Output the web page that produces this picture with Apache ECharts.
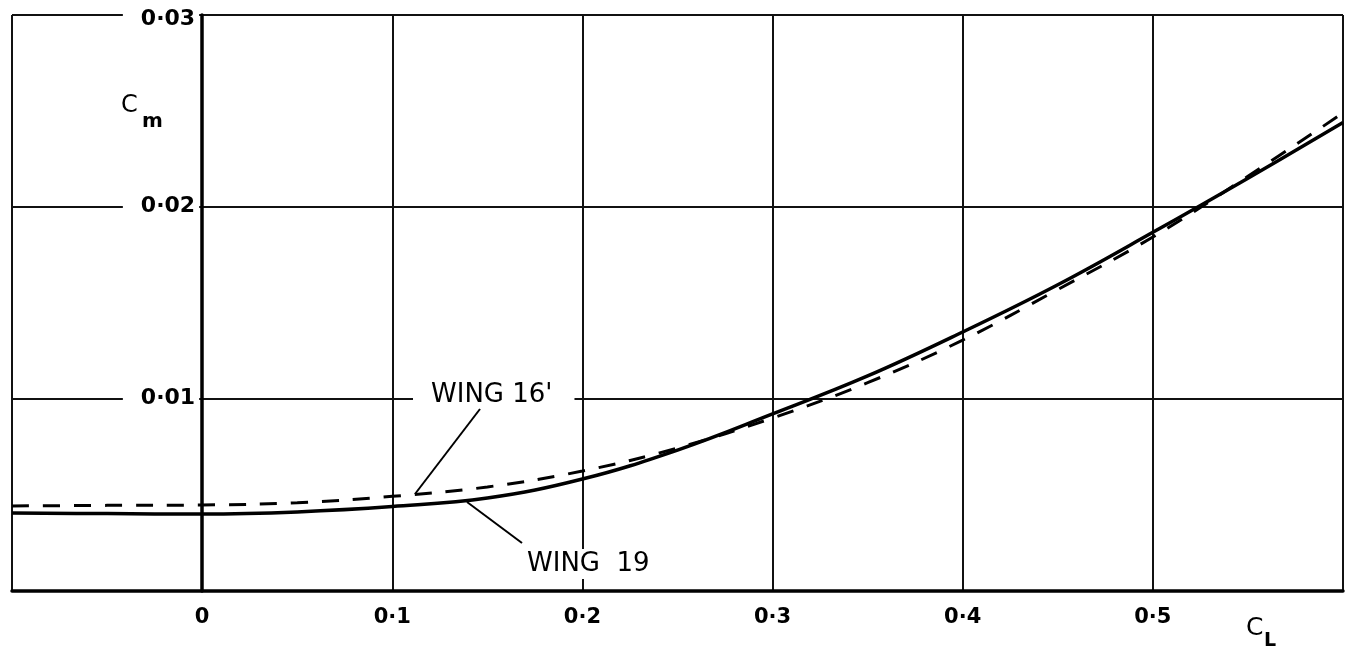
<!DOCTYPE html>
<html><head><meta charset="utf-8">
<script src="https://cdn.jsdelivr.net/npm/echarts@6/dist/echarts.min.js"></script>
<style>html,body{margin:0;padding:0;background:#fff}#c{width:1355px;height:657px}</style>
</head><body><div id="c"></div>
<script>
// ---- data ----
const cl     = [-0.1, -0.05, 0, 0.05, 0.1, 0.15, 0.2, 0.25, 0.3, 0.35, 0.4, 0.45, 0.5, 0.55, 0.6];
const wing16 = [0.00443, 0.00446, 0.00448, 0.00460, 0.00493, 0.00542, 0.00625, 0.00745, 0.00901, 0.01085, 0.01307, 0.01570, 0.01844, 0.02160, 0.02490];
const wing19 = [0.00406, 0.00403, 0.00401, 0.00412, 0.00440, 0.00484, 0.00583, 0.00734, 0.00922, 0.01120, 0.01349, 0.01595, 0.01868, 0.02150, 0.02440];
const xTickValues = [0, 0.1, 0.2, 0.3, 0.4, 0.5];
const xTickLabels = ['0', '0·1', '0·2', '0·3', '0·4', '0·5'];
const yTickValues = [0.01, 0.02, 0.03];
const yTickLabels = ['0·01', '0·02', '0·03'];
const seriesNames = ["WING 16'", 'WING 19'];

const chart = echarts.init(document.getElementById('c'), null, {renderer: 'canvas'});
const FONT = '"DejaVu Sans", sans-serif';
const ink = '#000';

function findLabel(v, vals, labs) {
  for (let i = 0; i < vals.length; i++) if (Math.abs(v - vals[i]) < 1e-9) return labs[i];
  return '';
}

const option = {
  animation: false,
  backgroundColor: '#fff',
  grid: {left: 12, right: 12, top: 15, bottom: 66, containLabel: false},
  xAxis: {
    type: 'value', min: -0.1, max: 0.6, interval: 0.1,
    axisLine: {show: true, onZero: false, lineStyle: {color: ink, width: 3.5}},
    axisTick: {show: false},
    splitLine: {show: true, lineStyle: {color: '#111', width: 2}},
    axisLabel: {
      show: true, margin: 16, color: ink,
      fontFamily: FONT, fontWeight: 'bold', fontSize: 21,
      formatter: v => findLabel(v, xTickValues, xTickLabels)
    }
  },
  yAxis: {
    type: 'value', min: 0, max: 0.03, interval: 0.01,
    axisLine: {show: true, onZero: true, lineStyle: {color: ink, width: 3.5}},
    axisTick: {show: false},
    axisLabel: {show: false},
    splitLine: {show: true, lineStyle: {color: '#111', width: 2}}
  },
  series: [
    {
      name: seriesNames[0], type: 'line', smooth: 0.4, showSymbol: false, symbol: 'none',
      data: cl.map((x, i) => [x, wing16[i]]),
      lineStyle: {color: ink, width: 3, type: [17, 14]}, z: 3
    },
    {
      name: seriesNames[1], type: 'line', smooth: 0.4, showSymbol: false, symbol: 'none',
      data: cl.map((x, i) => [x, wing19[i]]),
      lineStyle: {color: ink, width: 3.5}, z: 4
    }
  ]
};
chart.setOption(option);

// ---- annotations (layout) ----
const px0 = chart.convertToPixel({xAxisIndex: 0}, 0);
const yLabelDy = [-1, -1, 4];
const graphics = [];
yTickValues.forEach((v, i) => {
  graphics.push({
    type: 'text', z: 20,
    x: px0 - 3, y: chart.convertToPixel({yAxisIndex: 0}, v) + yLabelDy[i],
    style: {text: yTickLabels[i], font: 'bold 22px ' + FONT, fill: ink,
            align: 'right', verticalAlign: 'middle',
            backgroundColor: '#fff', padding: [3, 4, 3, 18]}
  });
});
// axis titles
graphics.push({type: 'text', z: 20, x: 121, y: 106,
  style: {text: 'C', font: '24px ' + FONT, fill: ink, align: 'left', verticalAlign: 'middle'}});
graphics.push({type: 'text', z: 20, x: 142, y: 122,
  style: {text: 'm', font: 'bold 20px ' + FONT, fill: ink, align: 'left', verticalAlign: 'middle'}});
graphics.push({type: 'text', z: 20, x: 1246, y: 628,
  style: {text: 'C', font: '25px ' + FONT, fill: ink, align: 'left', verticalAlign: 'middle'}});
graphics.push({type: 'text', z: 20, x: 1264, y: 641,
  style: {text: 'L', font: 'bold 19px ' + FONT, fill: ink, align: 'left', verticalAlign: 'middle'}});
// series labels
graphics.push({type: 'text', z: 20, x: 413, y: 395,
  style: {text: seriesNames[0], font: '26px ' + FONT, fill: ink, align: 'left', verticalAlign: 'middle',
          backgroundColor: '#fff', padding: [0, 22, 2, 18]}});
graphics.push({type: 'text', z: 20, x: 523, y: 564,
  style: {text: 'WING  19', font: '26px ' + FONT, fill: ink, align: 'left', verticalAlign: 'middle',
          backgroundColor: '#fff', padding: [2, 4, 2, 4]}});
// leader lines
graphics.push({type: 'line', z: 20, shape: {x1: 480, y1: 409, x2: 415, y2: 494},
  style: {stroke: ink, lineWidth: 2}});
graphics.push({type: 'line', z: 20, shape: {x1: 467, y1: 502, x2: 522, y2: 543},
  style: {stroke: ink, lineWidth: 2}});

chart.setOption({graphic: {elements: graphics}});
</script>
</body></html>
